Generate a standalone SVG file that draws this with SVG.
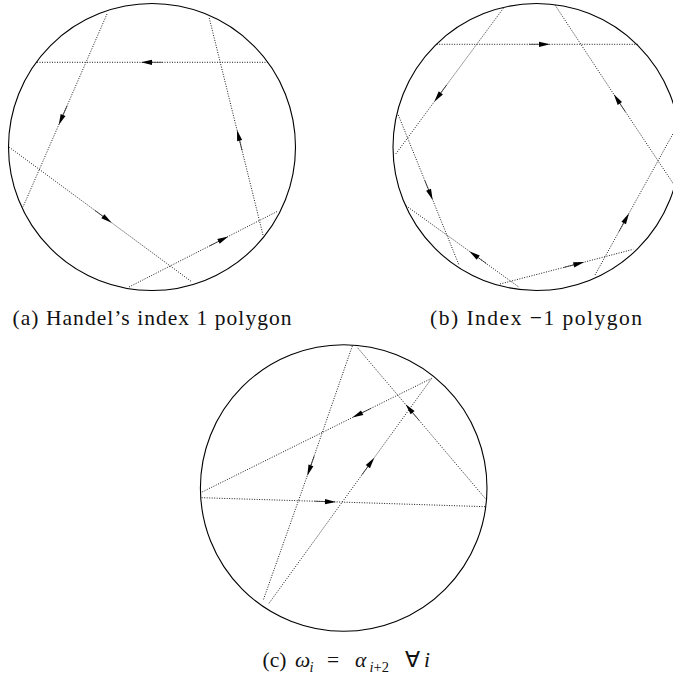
<svg xmlns="http://www.w3.org/2000/svg" width="673" height="676" viewBox="0 0 673 676">
<style>
.rim{fill:none;stroke:#000;stroke-width:1.1}
.chord{fill:none;stroke:#000;stroke-width:0.9;stroke-dasharray:1 1.5;marker-mid:url(#ah)}
.cap{font-family:"Liberation Serif","Times New Roman",serif;font-size:21.5px;fill:#111}
</style>
<defs>
<marker id="ah" markerUnits="userSpaceOnUse" viewBox="-22 -4 24 8" refX="0" refY="0" markerWidth="24" markerHeight="8" orient="auto" overflow="visible">
<line x1="-21" y1="0" x2="-9" y2="0" stroke="#333" stroke-width="0.8"/>
<path d="M0,0 L-11,-2.6 L-11,2.6 Z" fill="#000"/>
</marker>
</defs>
<g id="panel-a">
<circle class="rim" cx="152" cy="147" r="143.5"/>
<g id="connectors-a">
<path class="chord" d="M268,62.3 L141,62.3 L36,62.3"/>
<path class="chord" d="M107,14 L58.7,125 L23,207"/>
<path class="chord" d="M9,147 L111.7,222.8 L192,282"/>
<path class="chord" d="M129,287 L228.3,236.4 L278,211"/>
<path class="chord" d="M263,235 L237,130 L209,17"/>
</g>
<text class="cap" x="12.5" y="324.5" textLength="279">(a)  Handel’s index 1 polygon</text>
</g>
<g id="panel-b">
<circle class="rim" cx="536.5" cy="147" r="143.5"/>
<g id="connectors-b">
<path class="chord" d="M436.7,44.3 L550,44.3 L638.3,44.3"/>
<path class="chord" d="M503.3,8.3 L434.3,101.7 L395,155"/>
<path class="chord" d="M398.3,115 L432.7,200 L459,265"/>
<path class="chord" d="M518.3,286.7 L469.3,251.2 L405,205"/>
<path class="chord" d="M500,284 L584.3,262.1 L633.3,249.3"/>
<path class="chord" d="M595,275 L629,213.3 L677,126.5"/>
<path class="chord" d="M674.5,185.5 L613.8,94.3 L555,5"/>
</g>
<text class="cap" x="430" y="324.5" textLength="212">(b)  Index −1 polygon</text>
</g>
<g id="panel-c">
<circle class="rim" cx="343.7" cy="488" r="143.3"/>
<g id="connectors-c">
<path class="chord" d="M352.3,346 L307.3,475.7 L263.3,600"/>
<path class="chord" d="M486,499.3 L405.5,404.3 L356.7,346.7"/>
<path class="chord" d="M431.7,378.3 L352.3,417.6 L200.7,492.7"/>
<path class="chord" d="M201.7,497.7 L336,501.9 L486,506.7"/>
<path class="chord" d="M269,603.3 L374.3,457.7 L431.7,378.3"/>
</g>
<text class="cap" y="667"><tspan x="262.5">(c)</tspan><tspan x="295" font-style="italic">ω</tspan><tspan x="309.5" y="671.5" font-size="14.5" font-style="italic">i</tspan><tspan x="327" y="667">=</tspan><tspan x="355" font-style="italic">α</tspan><tspan x="369.5" y="671.5" font-size="14.5"><tspan font-style="italic">i</tspan>+2</tspan><tspan x="405" y="667">∀</tspan><tspan x="424" font-style="italic">i</tspan></text>
</g>
</svg>
